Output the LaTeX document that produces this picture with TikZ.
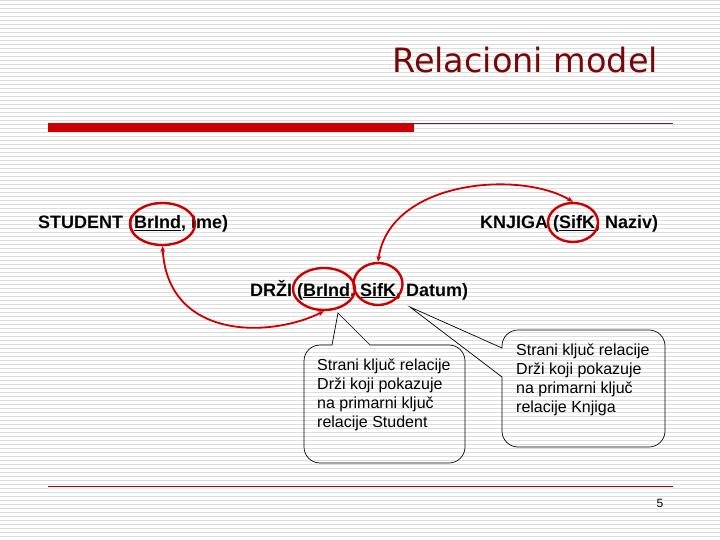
\documentclass[tikz,border=0pt]{standalone}
\usepackage{fontspec}
\setmainfont{Liberation Sans}
\newfontfamily\titlefont{DejaVu Sans}
\usetikzlibrary{shapes.geometric,arrows.meta}
\definecolor{stripe}{RGB}{221,221,221}
\definecolor{keyred}{RGB}{204,0,0}
\definecolor{titlered}{RGB}{118,8,8}
\definecolor{rulered}{RGB}{110,30,40}
\definecolor{rulepink}{RGB}{248,226,226}
\tikzset{
  keyring/.style={draw=keyred, line width=2.4pt, ellipse, inner sep=0pt},
  fklink/.style={draw=keyred, line width=1.8pt, {Stealth[length=6pt,width=5pt]}-{Stealth[length=6pt,width=5pt]}},
  relation/.style={font=\fontsize{18}{20}\selectfont\bfseries, anchor=base west, inner sep=0pt},
  balloon/.style={draw=black, line width=0.7pt},
  balloontext/.style={font=\fontsize{16}{19}\selectfont, anchor=base west, inner sep=0pt, align=left}
}
\begin{document}
\begin{tikzpicture}[x=1pt,y=-1pt]
\useasboundingbox (0,0) rectangle (720,540);
\fill[white] (0,0) rectangle (720,540);
\foreach \k in {0,...,134} {
  \draw[stripe, line width=1.3pt] (0,{4*\k+0.7}) -- (720,{4*\k+0.7});
}
% title
\node[anchor=base west, inner sep=0pt, text=titlered, font=\titlefont\fontsize{33.5}{36}\selectfont] (title) at (392,73) {Relacioni model};
% top rule
\fill[keyred] (48,123) rectangle (414,132);
\draw[rulered, line width=0.8pt] (414,123.5) -- (673,123.5);
% bottom rule
\draw[rulepink, line width=2pt] (48,488) -- (673,488);
\draw[rulered, line width=1.1pt] (48,486.2) -- (673,486.2);
\node[anchor=base, inner sep=0pt, font=\fontsize{12}{14}\selectfont] (page) at (660,507) {5};

% relations
\node[relation] (student) at (38,229) {STUDENT (\underline{BrInd}, Ime)};
\node[relation] (knjiga) at (480,229) {KNJIGA (\underline{SifK}, Naziv)};
\node[relation] (drzi) at (250,296) {DRŽI (\underline{BrInd}, \underline{SifK}, Datum)};

% key rings
\node[keyring, minimum width=65pt, minimum height=42pt] (c1) at (162.5,224) {};
\node[keyring, minimum width=50pt, minimum height=39pt] (c2) at (573,222.5) {};
\node[keyring, minimum width=62pt, minimum height=42pt] (c3) at (324,289) {};
\node[keyring, minimum width=49pt, minimum height=42pt] (c4) at (378,284) {};

% links
\draw[fklink] (c1.south) .. controls (168,340) and (270,338) .. (c3.south);
\draw[fklink] (c4.north) .. controls (390,180) and (520,170) .. (c2.north);

% balloon 1
\coordinate (p1) at (338,313);
\draw[balloon] (370,345) [rounded corners=16pt] -- (465,345) -- (465,463) -- (304,463) -- (304,345) [sharp corners] -- (332,345) -- (p1) -- cycle;
\node[balloontext] (b1) at (317,427) {Strani ključ relacije\\Drži koji pokazuje\\na primarni ključ\\relacije Student};

% balloon 2
\coordinate (p2) at (410,307);
\draw[balloon] (502,348) [rounded corners=16pt] -- (502,330) -- (665,330) -- (665,447) -- (502,447) [sharp corners] -- (502,377) -- (p2) -- cycle;
\node[balloontext] (b2) at (516,412) {Strani ključ relacije\\Drži koji pokazuje\\na primarni ključ\\relacije Knjiga};
\end{tikzpicture}
\end{document}
